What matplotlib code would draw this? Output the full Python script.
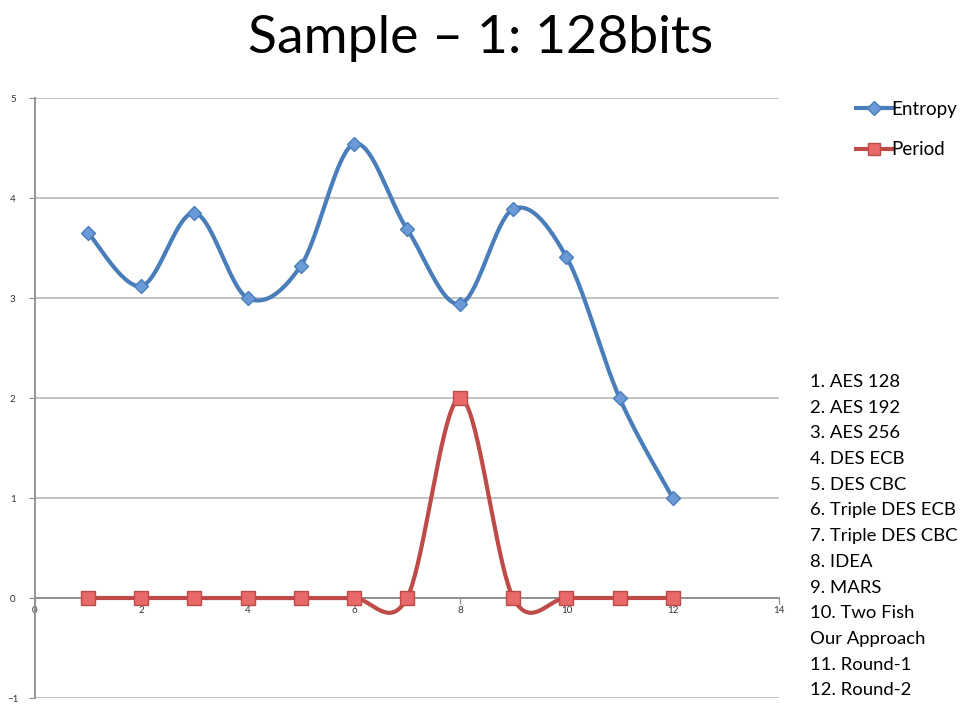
import numpy as np
import matplotlib.pyplot as plt
from matplotlib.lines import Line2D

# data
x_vals = [1, 2, 3, 4, 5, 6, 7, 8, 9, 10, 11, 12]
entropy = [3.65, 3.12, 3.85, 3.0, 3.32, 4.54, 3.69, 2.94, 3.89, 3.41, 2.0, 1.0]
period = [0, 0, 0, 0, 0, 0, 0, 2, 0, 0, 0, 0]
algorithms = ["1. AES 128", "2. AES 192", "3. AES 256", "4. DES ECB", "5. DES CBC",
              "6. Triple DES ECB", "7. Triple DES CBC", "8. IDEA", "9. MARS",
              "10. Two Fish", "Our Approach", "11. Round-1", "12. Round-2"]

BLUE = "#4A7EBB"
BLUE_FILL = "#6A9BD8"
RED = "#BE4B48"
RED_FILL = "#E8696A"


def smooth(xs, ys, n=40):
    # Excel-style smoothed line: cubic bezier with catmull-rom control points
    xs = np.asarray(xs, float)
    ys = np.asarray(ys, float)
    px = np.concatenate([[xs[0]], xs, [xs[-1]]])
    py = np.concatenate([[ys[0]], ys, [ys[-1]]])
    t = np.linspace(0, 1, n)
    out_x, out_y = [], []
    for i in range(1, len(px) - 2):
        p0x, p1x, p2x, p3x = px[i - 1:i + 3]
        p0y, p1y, p2y, p3y = py[i - 1:i + 3]
        c1x, c1y = p1x + (p2x - p0x) / 6, p1y + (p2y - p0y) / 6
        c2x, c2y = p2x - (p3x - p1x) / 6, p2y - (p3y - p1y) / 6
        bx = (1 - t) ** 3 * p1x + 3 * (1 - t) ** 2 * t * c1x + 3 * (1 - t) * t ** 2 * c2x + t ** 3 * p2x
        by = (1 - t) ** 3 * p1y + 3 * (1 - t) ** 2 * t * c1y + 3 * (1 - t) * t ** 2 * c2y + t ** 3 * p2y
        out_x.extend(bx)
        out_y.extend(by)
    return out_x, out_y


plt.rcParams['font.family'] = ['Lato', 'DejaVu Sans']

fig = plt.figure(figsize=(9.61, 7.04), dpi=100)
ax = fig.add_axes([35 / 961, 6 / 704, 744 / 961, 600 / 704])

ex, ey = smooth(x_vals, entropy)
ax.plot(ex, ey, color=BLUE, lw=3, solid_capstyle='round', zorder=3)
ax.plot(x_vals, entropy, ls='none', marker='D', ms=7, mfc=BLUE_FILL, mec=BLUE, mew=1, zorder=4)

px_, py_ = smooth(x_vals, period)
ax.plot(px_, py_, color=RED, lw=3, solid_capstyle='round', zorder=3)
ax.plot(x_vals, period, ls='none', marker='s', ms=10, mfc=RED_FILL, mec=RED, mew=1, zorder=4)

ax.set_xlim(0, 14)
ax.set_ylim(-1, 5)
ax.set_xticks(range(0, 15, 2))
ax.set_yticks(range(-1, 6))
ax.grid(axis='y', color='#BEBEBE', lw=1.3)
ax.set_axisbelow(True)

for s in ['top', 'right', 'bottom']:
    ax.spines[s].set_visible(False)
ax.spines['left'].set_color('#8C8C8C')
ax.spines['left'].set_linewidth(1.3)
ax.spines['bottom'].set_visible(True)
ax.spines['bottom'].set_position(('data', 0))
ax.spines['bottom'].set_color('#8C8C8C')
ax.spines['bottom'].set_linewidth(1.3)

ax.tick_params(axis='x', direction='out', length=4, color='#8C8C8C', labelsize=7, pad=2, labelcolor='#333333')
ax.tick_params(axis='y', direction='out', length=4, color='#8C8C8C', labelsize=7, pad=12, labelcolor='#333333')
for lbl in ax.get_yticklabels():
    lbl.set_horizontalalignment('center')

fig.text(0.5, 1 - 38 / 704, "Sample \u2013 1: 128bits", ha='center', va='center', fontsize=38.5)

handles = [
    Line2D([], [], color=BLUE, lw=3, marker='D', ms=7, mfc=BLUE_FILL, mec=BLUE),
    Line2D([], [], color=RED, lw=3, marker='s', ms=9, mfc=RED_FILL, mec=RED),
]
fig.legend(handles, ["Entropy", "Period"], loc='upper left', bbox_to_anchor=(856 / 961, 1 - 101 / 704),
           frameon=False, fontsize=13.5, handlelength=1.9, handletextpad=0.0, labelspacing=1.25,
           borderaxespad=0, borderpad=0)

for i, name in enumerate(algorithms):
    fig.text(810 / 961, 1 - (382 + i * 25.7) / 704, name, ha='left', va='center', fontsize=13.3)

fig.savefig("out.png", dpi=100)
